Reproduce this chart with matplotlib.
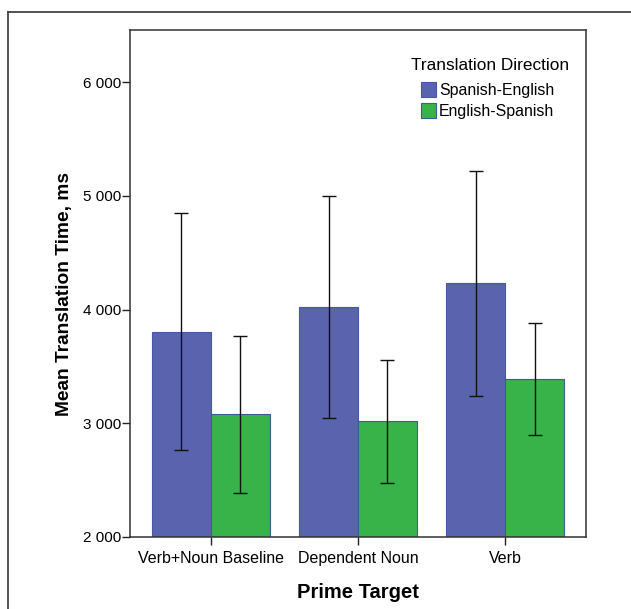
import numpy as np
import matplotlib
matplotlib.use('Agg')
from matplotlib import pyplot as plt
from matplotlib.lines import Line2D
from matplotlib.ticker import FuncFormatter

plt.rcParams['font.family'] = ['Liberation Sans', 'DejaVu Sans']

categories = ['Verb+Noun Baseline', 'Dependent Noun', 'Verb']
series = ['Spanish-English', 'English-Spanish']
span_eng = [3805, 4021, 4233]
span_eng_lo = [2761, 3046, 3240]
span_eng_hi = [4852, 4999, 5222]
eng_span = [3078, 3017, 3392]
eng_span_lo = [2388, 2479, 2896]
eng_span_hi = [3768, 3557, 3880]

c_blue = '#5a64ae'; c_green = '#37b34a'

fig = plt.figure(figsize=(6.31, 6.09), dpi=100)
ax = fig.add_axes([130/631, 1-537/609, (586-130)/631, (537-30)/609])

x = np.arange(len(categories))
w = 0.4
for off, vals, lo, hi, col, ec, lab in [(-w/2, span_eng, span_eng_lo, span_eng_hi, c_blue, '#4656a8', series[0]),
                                         (w/2, eng_span, eng_span_lo, eng_span_hi, c_green, '#3d5a9a', series[1])]:
    vals = np.array(vals)
    ax.bar(x+off, vals-2000, w, bottom=2000, color=col, edgecolor=ec, linewidth=0.8, label=lab, zorder=2)
    err = [vals-np.array(lo), np.array(hi)-vals]
    ax.errorbar(x+off, vals, yerr=err, fmt='none', ecolor='#111111', elinewidth=1.0, capsize=5, capthick=1.0, zorder=3)

ax.set_xlim(-0.55, 2.55); ax.set_ylim(2000, 6460)
ax.set_yticks([2000, 3000, 4000, 5000, 6000])
ax.yaxis.set_major_formatter(FuncFormatter(lambda v, p: f'{int(v):,}'.replace(',', ' ')))
ax.set_xticks(x); ax.set_xticklabels(categories)
ax.tick_params(axis='both', direction='out', length=6, width=1.0, color='#222222', labelsize=11, pad=0.5)
ax.tick_params(axis='x', labelsize=11.5, pad=4)
for s in ax.spines.values():
    s.set_linewidth(1.1); s.set_color('#333333')

ax.set_ylabel('Mean Translation Time, ms', fontsize=13.8, fontweight='bold')
ax.yaxis.set_label_coords(-0.126, (537-294)/507)
ax.set_xlabel('Prime Target', fontsize=14.5, fontweight='bold', labelpad=12)

# legend: title drawn as text, entries below it
ax.text((490-130)/456, (537-65)/507, 'Translation Direction', transform=ax.transAxes,
        ha='center', va='center', fontsize=12.4)
leg = ax.legend(loc='upper left', bbox_to_anchor=((421-130)/456, (537-82)/507), frameon=False,
                fontsize=11.4, handlelength=0.95, handleheight=1.05, handletextpad=0.2,
                labelspacing=0.36, borderpad=0, borderaxespad=0)

# frame around the figure (left and top edges visible)
fig.add_artist(Line2D([8/631, 8/631], [0, 1-12/609], transform=fig.transFigure, color='#444444', lw=1.3))
fig.add_artist(Line2D([8/631, 1], [1-12/609, 1-12/609], transform=fig.transFigure, color='#444444', lw=1.3))

fig.savefig('out.png', dpi=100)
